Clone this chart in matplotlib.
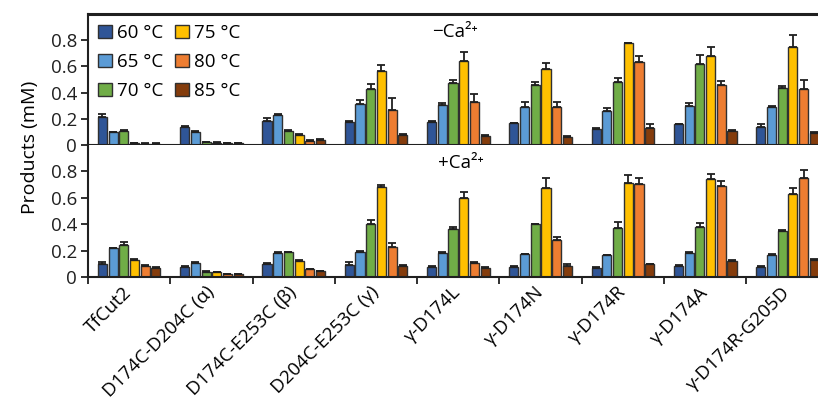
import matplotlib
matplotlib.use("Agg")
import matplotlib.pyplot as plt
import numpy as np

plt.rcParams['font.family'] = ['Open Sans', 'DejaVu Sans']

variants = ["TfCut2", "D174C-D204C (α)", "D174C-E253C (β)", "D204C-E253C (γ)",
            "γ-D174L", "γ-D174N", "γ-D174R", "γ-D174A", "γ-D174R-G205D"]
temps = ["60 °C", "65 °C", "70 °C", "75 °C", "80 °C", "85 °C"]
colors = ["#2f5597", "#5b9bd5", "#70ad47", "#ffc000", "#ed7d31", "#843c0c"]

# -Ca2+ : one list per temperature, one value per variant
no_ca = [
    [0.21, 0.14, 0.184, 0.174, 0.176, 0.166, 0.123, 0.159, 0.14],
    [0.097, 0.097, 0.23, 0.31, 0.307, 0.289, 0.258, 0.297, 0.289],
    [0.107, 0.02, 0.107, 0.43, 0.47, 0.455, 0.483, 0.619, 0.435],
    [0.012, 0.018, 0.079, 0.565, 0.642, 0.583, 0.777, 0.677, 0.749],
    [0.01, 0.015, 0.033, 0.268, 0.325, 0.291, 0.636, 0.46, 0.429],
    [0.01, 0.013, 0.038, 0.079, 0.069, 0.061, 0.13, 0.11, 0.094],
]
no_ca_err = [
    [0.025, 0.005, 0.025, 0.01, 0.005, 0.005, 0.005, 0.005, 0.02],
    [0.005, 0.01, 0.005, 0.035, 0.013, 0.036, 0.028, 0.023, 0.005],
    [0.005, 0.003, 0.005, 0.038, 0.026, 0.023, 0.028, 0.071, 0.015],
    [0.003, 0.003, 0.005, 0.045, 0.068, 0.043, 0.005, 0.073, 0.087],
    [0.003, 0.003, 0.005, 0.092, 0.068, 0.039, 0.047, 0.028, 0.069],
    [0.003, 0.003, 0.005, 0.005, 0.005, 0.005, 0.029, 0.005, 0.005],
]

# +Ca2+
with_ca = [
    [0.102, 0.076, 0.102, 0.089, 0.076, 0.076, 0.069, 0.082, 0.076],
    [0.217, 0.107, 0.184, 0.191, 0.184, 0.171, 0.164, 0.181, 0.166],
    [0.242, 0.038, 0.186, 0.40, 0.367, 0.398, 0.37, 0.378, 0.352],
    [0.128, 0.036, 0.122, 0.68, 0.60, 0.673, 0.711, 0.742, 0.63],
    [0.084, 0.023, 0.059, 0.229, 0.107, 0.283, 0.703, 0.688, 0.752],
    [0.069, 0.023, 0.044, 0.087, 0.069, 0.082, 0.097, 0.122, 0.128],
]
with_ca_err = [
    [0.013, 0.011, 0.005, 0.021, 0.005, 0.005, 0.005, 0.01, 0.005],
    [0.005, 0.008, 0.005, 0.005, 0.005, 0.005, 0.005, 0.005, 0.005],
    [0.026, 0.005, 0.004, 0.034, 0.01, 0.005, 0.05, 0.03, 0.005],
    [0.007, 0.004, 0.005, 0.02, 0.042, 0.076, 0.061, 0.038, 0.043],
    [0.005, 0.003, 0.005, 0.031, 0.005, 0.02, 0.049, 0.036, 0.061],
    [0.005, 0.003, 0.005, 0.005, 0.005, 0.015, 0.005, 0.005, 0.005],
]

fig = plt.figure(figsize=(8.18, 4.09), dpi=100)
ax1 = fig.add_axes([88 / 818, 1 - 145 / 409, 740.7 / 818, 131 / 409])
ax2 = fig.add_axes([88 / 818, 1 - 277 / 409, 740.7 / 818, 132 / 409])

x = np.arange(len(variants))
slot = 0.13
width = 0.11
edge = "#303030"

for ax, vals, errs in [(ax1, no_ca, no_ca_err), (ax2, with_ca, with_ca_err)]:
    for j in range(len(temps)):
        pos = x + (j - 2.5) * slot
        ax.bar(pos, vals[j], width, color=colors[j], edgecolor=edge, linewidth=1.0,
               label=temps[j], zorder=2)
        ax.errorbar(pos, vals[j], yerr=[np.zeros(len(errs[j])), errs[j]], fmt="none",
                    ecolor="#202020", elinewidth=1.3, capsize=3.2, capthick=1.3, zorder=3)
    ax.set_xlim(-0.5, len(variants) - 0.5)
    ax.set_ylim(0, 1.0)
    ax.set_yticks([0, 0.2, 0.4, 0.6, 0.8])
    ax.set_yticklabels(["0", "0.2", "0.4", "0.6", "0.8"])
    ax.set_xticks(np.arange(len(variants) + 1) - 0.5)
    ax.set_xticklabels([])
    ax.tick_params(axis="both", direction="out", length=5, width=1.3, colors="#202020",
                   labelsize=13.5, pad=3)
    for s in ax.spines.values():
        s.set_linewidth(1.5)
        s.set_color("#202020")

ax1.spines["top"].set_linewidth(2.2)
ax2.spines["top"].set_visible(False)
ax2.spines["right"].set_visible(False)

ax2.set_xticks(x, minor=True)
ax2.set_xticklabels(variants, minor=True, rotation=45, ha="right", va="center",
                    rotation_mode="anchor", fontsize=13.5)
ax2.tick_params(axis="x", which="minor", length=0, pad=9)

ax1.text(0.465, 0.86, "\u2212Ca\u00b2\u207a", transform=ax1.transAxes, fontsize=13.5,
         ha="left", va="center")
ax2.text(0.472, 0.86, "+Ca\u00b2\u207a", transform=ax2.transAxes, fontsize=13.5,
         ha="left", va="center")

ax1.legend(loc="upper left", ncol=2, fontsize=13.5, frameon=False,
           handlelength=0.72, handleheight=0.72, handletextpad=0.3,
           columnspacing=0.6, labelspacing=0.58, borderaxespad=0.15,
           bbox_to_anchor=(0.0, 1.0))

fig.text(30 / 818, 1 - 147 / 409, "Products (mM)", rotation=90, ha="center", va="center",
         fontsize=14)

fig.savefig("out.png", dpi=100)
